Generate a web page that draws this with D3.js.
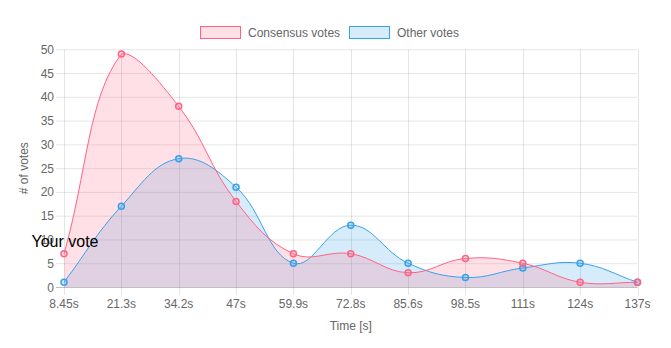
<!DOCTYPE html>
<html><head><meta charset="utf-8">
<script src="https://cdn.jsdelivr.net/npm/d3@7"></script>
<style>html,body{margin:0;padding:0;background:#fff;}svg{display:block;}</style>
</head><body>
<svg id="c" width="671" height="348"></svg>
<script>
const categories = ["8.45s","21.3s","34.2s","47s","59.9s","72.8s","85.6s","98.5s","111s","124s","137s"];
const consensusVotes = [7,49,38,18,7,7,3,6,5,1,1];
const otherVotes = [1,17,27,21,5,13,5,2,4,5,1];
const yTicks = [0,5,10,15,20,25,30,35,40,45,50];
const seriesNames = ["Consensus votes","Other votes"];
const annotationText = "Your vote";

const W = 671, H = 348;
const pL = 64, pR = 637.5, pT = 49.3, pB = 287;
const svg = d3.select("#c");
const font = "Arial, 'Liberation Sans', Helvetica, sans-serif";
const grid = "rgba(0,0,0,0.1)";

const x = d3.scalePoint().domain(categories).range([pL, pR]);
const y = d3.scaleLinear().domain([0, 50]).range([pB, pT]);

// grid lines
const g = svg.append("g");
yTicks.forEach(t => {
  g.append("line").attr("x1", pL - 8).attr("x2", pR).attr("y1", y(t) + 0.5).attr("y2", y(t) + 0.5)
    .attr("stroke", t === 0 ? "rgba(0,0,0,0.25)" : grid).attr("stroke-width", 1);
  g.append("text").attr("x", pL - 10).attr("y", y(t) + 4.5).attr("text-anchor", "end")
    .attr("font-family", font).attr("font-size", 12).attr("fill", "#666").text(t);
});
categories.forEach((c, i) => {
  g.append("line").attr("x1", Math.round(x(c)) + 0.5).attr("x2", Math.round(x(c)) + 0.5).attr("y1", pT).attr("y2", pB + 8)
    .attr("stroke", grid).attr("stroke-width", 1);
  g.append("text").attr("x", x(c)).attr("y", 308).attr("text-anchor", "middle")
    .attr("font-family", font).attr("font-size", 12).attr("fill", "#666").text(c);
});
svg.append("text").attr("x", (pL + pR) / 2).attr("y", 330).attr("text-anchor", "middle")
  .attr("font-family", font).attr("font-size", 12).attr("fill", "#666").text("Time [s]");
svg.append("text").attr("transform", `translate(28,${(pT + pB) / 2}) rotate(-90)`).attr("text-anchor", "middle")
  .attr("font-family", font).attr("font-size", 12).attr("fill", "#666").text("# of votes");

// Chart.js style spline
function splinePts(vals) {
  const pts = vals.map((v, i) => ({x: x(categories[i]), y: y(v)}));
  const t = 0.4;
  pts.forEach((cur, i) => {
    const prev = pts[i - 1] || cur, next = pts[i + 1] || cur;
    const d01 = Math.hypot(cur.x - prev.x, cur.y - prev.y);
    const d12 = Math.hypot(next.x - cur.x, next.y - cur.y);
    let s01 = d01 / (d01 + d12), s12 = d12 / (d01 + d12);
    if (isNaN(s01)) s01 = 0; if (isNaN(s12)) s12 = 0;
    const fa = t * s01, fb = t * s12;
    cur.cpPrev = {x: cur.x - fa * (next.x - prev.x), y: cur.y - fa * (next.y - prev.y)};
    cur.cpNext = {x: cur.x + fb * (next.x - prev.x), y: cur.y + fb * (next.y - prev.y)};
    [cur.cpPrev, cur.cpNext].forEach(p => {
      p.x = Math.max(pL, Math.min(pR, p.x));
      p.y = Math.max(pT, Math.min(pB, p.y));
    });
  });
  return pts;
}
function linePath(pts, closeFill) {
  const p = d3.path();
  p.moveTo(pts[0].x, pts[0].y);
  for (let i = 1; i < pts.length; i++) {
    const a = pts[i - 1], b = pts[i];
    p.bezierCurveTo(a.cpNext.x, a.cpNext.y, b.cpPrev.x, b.cpPrev.y, b.x, b.y);
  }
  if (closeFill) {
    p.lineTo(pts[pts.length - 1].x, y(0));
    p.lineTo(pts[0].x, y(0));
    p.closePath();
  }
  return p.toString();
}

const sets = [
  {vals: otherVotes, stroke: "rgb(54,162,235)", fill: "rgba(54,162,235,0.2)"},
  {vals: consensusVotes, stroke: "rgb(255,99,132)", fill: "rgba(255,99,132,0.2)"}
];
sets.forEach(s => { s.pts = splinePts(s.vals); });
sets.forEach(s => {
  svg.append("path").attr("d", linePath(s.pts, true)).attr("fill", s.fill).attr("stroke", "none");
});
sets.forEach(s => {
  svg.append("path").attr("d", linePath(s.pts, false)).attr("fill", "none").attr("stroke", s.stroke).attr("stroke-width", 1);
  svg.append("g").selectAll("circle").data(s.vals).join("circle")
    .attr("cx", (d, i) => x(categories[i])).attr("cy", d => y(d)).attr("r", 3)
    .attr("fill", s.fill).attr("stroke", s.stroke).attr("stroke-width", 1.5);
});

// legend
const legend = [
  {name: seriesNames[0], stroke: "rgb(255,99,132)", fill: "rgba(255,99,132,0.2)", bx: 200.5, tx: 248},
  {name: seriesNames[1], stroke: "rgb(54,162,235)", fill: "rgba(54,162,235,0.2)", bx: 349.5, tx: 397}
];
legend.forEach(l => {
  svg.append("rect").attr("x", l.bx).attr("y", 26.5).attr("width", 40).attr("height", 12)
    .attr("fill", l.fill).attr("stroke", l.stroke).attr("stroke-width", 1);
  svg.append("text").attr("x", l.tx).attr("y", 37).attr("font-family", font).attr("font-size", 12)
    .attr("fill", "#666").text(l.name);
});

// annotation
svg.append("text").attr("x", x(categories[0]) + 1).attr("y", 247).attr("text-anchor", "middle")
  .attr("font-family", font).attr("font-size", 16).attr("fill", "#000").text(annotationText);
</script>
</body></html>
